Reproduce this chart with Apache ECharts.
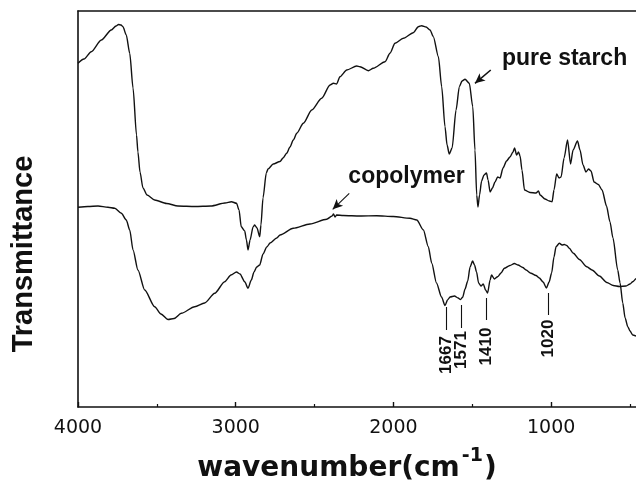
<!DOCTYPE html>
<html>
<head>
<meta charset="utf-8">
<script src="https://cdn.jsdelivr.net/npm/echarts@6/dist/echarts.min.js"></script>
<style>
  html, body { margin: 0; padding: 0; background: #fff; }
  #chart { width: 636px; height: 482px; }
</style>
</head>
<body>
<div id="chart"></div>
<script>
// FTIR spectra: wavenumber (cm-1) and transmittance (arbitrary units)
const starchWavenumber = [
  4000, 3962, 3916, 3852, 3789, 3759, 3743, 3727, 3715, 3694, 3672, 3651, 3629, 3620, 3607, 3588,
  3562, 3514, 3438, 3366, 3258, 3157, 3068, 3027, 2995, 2979, 2965, 2943, 2932, 2922, 2909, 2890,
  2880, 2865, 2848, 2840, 2827, 2806, 2795, 2762, 2719, 2700, 2677, 2656, 2635, 2613, 2571, 2518,
  2455, 2402, 2381, 2360, 2339, 2296, 2233, 2212, 2159, 2128, 2053, 2022, 1990, 1937, 1874, 1842,
  1821, 1793, 1768, 1747, 1715, 1694, 1673, 1660, 1646, 1628, 1603, 1582, 1565, 1546, 1519, 1497,
  1483, 1472, 1464, 1454, 1441, 1426, 1410, 1400, 1387, 1372, 1356, 1339, 1324, 1305, 1283, 1261,
  1242, 1232, 1219, 1207, 1197, 1185, 1169, 1134, 1096, 1080, 1070, 1039, 1012, 994, 982, 965,
  950, 937, 918, 896, 877, 861, 833, 817, 798, 779, 763, 747, 728, 701, 677, 649,
  627, 608, 578, 563, 546, 531, 514, 500, 483, 462
];
const starchTransmittance = [
  343.7, 348, 355.3, 367, 377, 381, 382.5, 382, 380.3, 372, 353.7, 319, 272, 255, 235, 219,
  212, 207, 203.5, 201, 200.5, 201, 204, 205.3, 203.7, 197, 180.3, 176, 167, 157, 167, 180,
  182, 179, 170.3, 182, 209, 234, 238, 243, 245.5, 249, 253.7, 260, 267, 273.7, 283.7, 297,
  308.7, 322, 323.7, 323, 330.3, 337, 341, 340.3, 336.3, 338.7, 345.3, 353.7, 363.7, 368.7, 374.3, 380.3,
  381.3, 380, 377, 370.3, 350.3, 320.3, 280.3, 262, 253, 259, 297, 320.3, 326, 327.7, 323.7, 300.3,
  257, 212, 200, 212, 226, 232, 234, 227, 215, 219, 225, 230, 229, 239, 246, 250,
  255, 259, 252, 255, 251, 237, 217, 214.5, 214, 216, 212, 208, 206, 205.3, 217, 233,
  229, 230, 249, 267, 243, 257, 266, 257, 242, 235, 238, 236, 225, 222.5, 217, 201,
  185, 169, 137, 124, 104, 89, 80.3, 76, 72, 71
];

const copolymerWavenumber = [
  4000, 3937, 3873, 3810, 3767, 3725, 3694, 3672, 3651, 3620, 3577, 3514, 3474, 3429, 3391, 3345,
  3260, 3197, 3133, 3070, 3030, 2995, 2973, 2943, 2922, 2901, 2884, 2867, 2848, 2827, 2803, 2782,
  2740, 2719, 2635, 2529, 2423, 2389, 2380, 2370, 2360, 2318, 2212, 2106, 2001, 1895, 1852, 1810,
  1779, 1757, 1727, 1695, 1673, 1657, 1641, 1613, 1590, 1575, 1561, 1546, 1529, 1514, 1498, 1486,
  1473, 1460, 1445, 1430, 1416, 1403, 1387, 1378, 1360, 1339, 1318, 1297, 1261, 1233, 1210, 1180,
  1159, 1128, 1096, 1075, 1051, 1030, 1013, 997, 982, 969, 948, 931, 916, 901, 885, 859,
  821, 774, 741, 694, 647, 606, 568, 525, 500, 483, 462
];
const copolymerTransmittance = [
  199.7, 200.5, 201, 199.7, 198.7, 193.7, 187, 177, 157, 137, 117, 100.3, 93, 87.5, 88.5, 93.7,
  100.3, 104, 113.7, 125.3, 132, 135, 133, 125.3, 118.7, 127, 135, 140, 142, 153, 160, 164,
  169, 172, 178.7, 183, 187.7, 191, 193, 190, 192, 191.5, 191, 191.3, 190.5, 188.7, 187, 177,
  160.3, 143.7, 124, 110, 101.5, 107, 110, 111, 109, 107.5, 109.7, 118, 126, 140, 146, 142,
  135, 124, 121, 123, 117, 114, 127, 132, 128, 130.3, 134, 138.7, 141.5, 143.5, 142, 139.5,
  137, 133.7, 131.5, 129, 125, 119, 125, 134, 150, 160.3, 163.7, 162, 162.5, 161.5, 158.7, 153.7,
  147.5, 140.3, 137, 131, 124.5, 121.5, 120.5, 121, 123, 125.3, 128.5
];

// Assigned copolymer bands (cm-1)
const peakWavenumbers = [1667, 1571, 1410, 1020];

// Axis ticks (cm-1)
const majorTicks = [1000, 2000, 3000, 4000];
const minorTicks = [500, 1500, 2500, 3500];

const seriesNames = ['pure starch', 'copolymer'];

// ---- annotation placement (data units) ----
const peakMarkers = [
  { from: 100, to: 77, labelAt: 52 },
  { from: 102, to: 79, labelAt: 57 },
  { from: 109, to: 87, labelAt: 60.5 },
  { from: 114, to: 92, labelAt: 68.5 }
];
const nameTags = [
  { at: [915, 348], arrow: [[1383, 337], [1483, 323.7]] },
  { at: [1917, 230], arrow: [[2280, 213.7], [2385, 197.7]] }
];

const ink = '#111';
const zip = (xs, ys) => xs.map((x, i) => [x, ys[i]]);

const xBase = {
  type: 'value', inverse: true, min: 462, max: 4000,
  splitLine: { show: false }
};

const chart = echarts.init(document.getElementById('chart'), null, { renderer: 'canvas' });
chart.setOption({
  animation: false,
  backgroundColor: '#fff',
  grid: { left: 78, right: 0, top: 11, bottom: 75, containLabel: false },
  xAxis: [
    Object.assign({}, xBase, {
      position: 'bottom',
      axisLine: { show: true, lineStyle: { color: ink, width: 1.6 } },
      axisTick: { show: true, inside: true, length: 5, customValues: majorTicks, lineStyle: { color: ink, width: 1.4 } },
      axisLabel: {
        show: true, customValues: majorTicks, margin: 12, color: '#111', fontSize: 19,
        fontFamily: 'DejaVu Sans', formatter: v => String(v)
      }
    }),
    Object.assign({}, xBase, {
      position: 'bottom',
      axisLine: { show: false },
      axisTick: { show: true, inside: true, length: 3, customValues: minorTicks, lineStyle: { color: ink, width: 1.2 } },
      axisLabel: { show: false }
    }),
    Object.assign({}, xBase, {
      position: 'top',
      axisLine: { show: true, lineStyle: { color: ink, width: 1.6 } },
      axisTick: { show: false },
      axisLabel: { show: false }
    })
  ],
  yAxis: {
    type: 'value', min: 0, max: 396,
    axisLine: { show: true, lineStyle: { color: ink, width: 1.6 } },
    axisTick: { show: false },
    axisLabel: { show: false },
    splitLine: { show: false }
  },
  graphic: [
    {
      type: 'text', x: 24, y: 254, rotation: Math.PI / 2, z: 10,
      style: {
        text: 'Transmittance', align: 'center', verticalAlign: 'middle',
        font: 'bold 29px "Liberation Sans", Arial, sans-serif', fill: '#111'
      }
    },
    {
      type: 'text', x: 347, y: 469, z: 10,
      style: {
        text: '{a|wavenumber(cm}{s|-1}{a|)}', align: 'center', verticalAlign: 'middle',
        rich: {
          a: { fontFamily: 'DejaVu Sans', fontWeight: 'bold', fontSize: 28, fill: '#111', color: '#111' },
          s: { fontFamily: 'DejaVu Sans', fontWeight: 'bold', fontSize: 19, fill: '#111', color: '#111', padding: [0, 1, 26, 2] }
        }
      }
    }
  ],
  series: [
    {
      name: seriesNames[0], type: 'line', xAxisIndex: 0,
      data: zip(starchWavenumber, starchTransmittance),
      showSymbol: false, symbol: 'none', smooth: 0.25, smoothMonotone: 'x',
      lineStyle: { color: ink, width: 1.4 },
      markLine: {
        silent: true, symbol: ['none', 'arrow'], symbolSize: [7, 10],
        itemStyle: { color: ink },
        lineStyle: { color: ink, width: 1.6, type: 'solid' }, label: { show: false },
        data: [[{ coord: nameTags[0].arrow[0] }, { coord: nameTags[0].arrow[1] }]]
      }
    },
    {
      name: seriesNames[1], type: 'line', xAxisIndex: 0,
      data: zip(copolymerWavenumber, copolymerTransmittance),
      showSymbol: false, symbol: 'none', smooth: 0.25, smoothMonotone: 'x',
      lineStyle: { color: ink, width: 1.4 },
      markLine: {
        silent: true, symbol: ['none', 'none'],
        itemStyle: { color: ink },
        lineStyle: { color: ink, width: 1.1, type: 'solid' }, label: { show: false },
        data: peakWavenumbers.map((w, i) => [
          { coord: [w, peakMarkers[i].from] }, { coord: [w, peakMarkers[i].to] }
        ]).concat([[
          { coord: nameTags[1].arrow[0], symbol: 'none' },
          { coord: nameTags[1].arrow[1], symbol: 'arrow', symbolSize: [7, 10] }
        ]])
      }
    },
    {
      type: 'scatter', xAxisIndex: 0, symbolSize: 0, silent: true,
      itemStyle: { color: ink, opacity: 1 },
      data: peakWavenumbers.map((w, i) => [w, peakMarkers[i].labelAt, String(w)]),
      label: {
        show: true, position: 'inside', rotate: 90,
        formatter: p => p.value[2],
        color: '#111', opacity: 1, textBorderWidth: 0, fontSize: 17, fontWeight: 'bold',
        fontFamily: '"Liberation Sans Narrow", "Liberation Sans", Arial, sans-serif'
      }
    },
    {
      type: 'scatter', xAxisIndex: 0, symbolSize: 0, silent: true,
      itemStyle: { color: ink, opacity: 1 },
      data: seriesNames.map((n, i) => [nameTags[i].at[0], nameTags[i].at[1], n]),
      label: {
        show: true, position: 'inside',
        formatter: p => p.value[2],
        color: '#111', opacity: 1, textBorderWidth: 0, fontSize: 23, fontWeight: 'bold',
        fontFamily: '"Liberation Sans", Arial, sans-serif'
      }
    }
  ]
});
</script>
</body>
</html>
